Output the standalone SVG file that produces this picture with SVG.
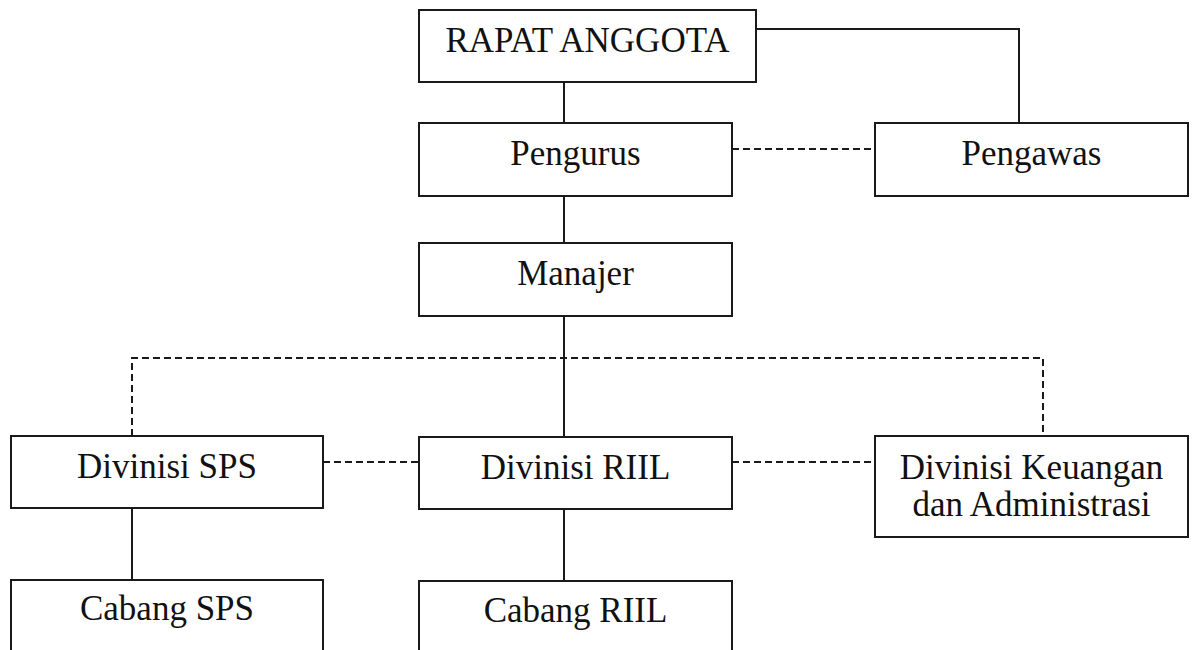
<svg xmlns="http://www.w3.org/2000/svg" width="1194" height="650" viewBox="0 0 1194 650">
  <style>
    .box { fill: #ffffff; stroke: #1a1a1a; stroke-width: 2; }
    .lbl { font-family: "Liberation Serif", "Times New Roman", serif; font-size: 35px; fill: #111111; text-anchor: middle; }
    .solid { fill: none; stroke: #1a1a1a; stroke-width: 2; }
    .dash { fill: none; stroke: #1a1a1a; stroke-width: 2; stroke-dasharray: 7 4; }
  </style>
  <rect width="1194" height="650" fill="#ffffff"/>

  <!-- connectors -->
  <g id="connectors">
    <line class="solid" x1="564" y1="82" x2="564" y2="123"/>
    <polyline class="solid" points="756,29 1019,29 1019,123"/>
    <line class="dash" x1="732" y1="149" x2="875" y2="149"/>
    <line class="solid" x1="564" y1="196" x2="564" y2="243"/>
    <line class="solid" x1="564" y1="316" x2="564" y2="437"/>
    <polyline class="dash" points="132,436 132,358 1043,358 1043,436"/>
    <line class="dash" x1="323" y1="462" x2="419" y2="462"/>
    <line class="dash" x1="732" y1="462" x2="875" y2="462"/>
    <line class="solid" x1="132" y1="508" x2="132" y2="580"/>
    <line class="solid" x1="564" y1="509" x2="564" y2="581"/>
  </g>

  <g id="rapat-anggota">
    <rect class="box" x="419" y="10" width="337" height="72"/>
    <text class="lbl" x="587.5" y="52">RAPAT ANGGOTA</text>
  </g>

  <g id="pengurus">
    <rect class="box" x="419" y="123" width="313" height="73"/>
    <text class="lbl" x="575.5" y="165">Pengurus</text>
  </g>

  <g id="pengawas">
    <rect class="box" x="875" y="123" width="313" height="73"/>
    <text class="lbl" x="1031.5" y="165">Pengawas</text>
  </g>

  <g id="manajer">
    <rect class="box" x="419" y="243" width="313" height="73"/>
    <text class="lbl" x="575.5" y="285">Manajer</text>
  </g>

  <g id="divisi-sps">
    <rect class="box" x="11" y="436" width="312" height="72"/>
    <text class="lbl" x="167" y="478">Divinisi SPS</text>
  </g>

  <g id="divisi-riil">
    <rect class="box" x="419" y="437" width="313" height="72"/>
    <text class="lbl" x="575.5" y="479">Divinisi RIIL</text>
  </g>

  <g id="divisi-keuangan">
    <rect class="box" x="875" y="436" width="313" height="101"/>
    <text class="lbl" x="1031.5" y="479">Divinisi Keuangan</text>
    <text class="lbl" x="1031.5" y="516">dan Administrasi</text>
  </g>

  <g id="cabang-sps">
    <rect class="box" x="11" y="580" width="312" height="100"/>
    <text class="lbl" x="167" y="620">Cabang SPS</text>
  </g>

  <g id="cabang-riil">
    <rect class="box" x="419" y="581" width="313" height="100"/>
    <text class="lbl" x="575.5" y="622">Cabang RIIL</text>
  </g>
</svg>
